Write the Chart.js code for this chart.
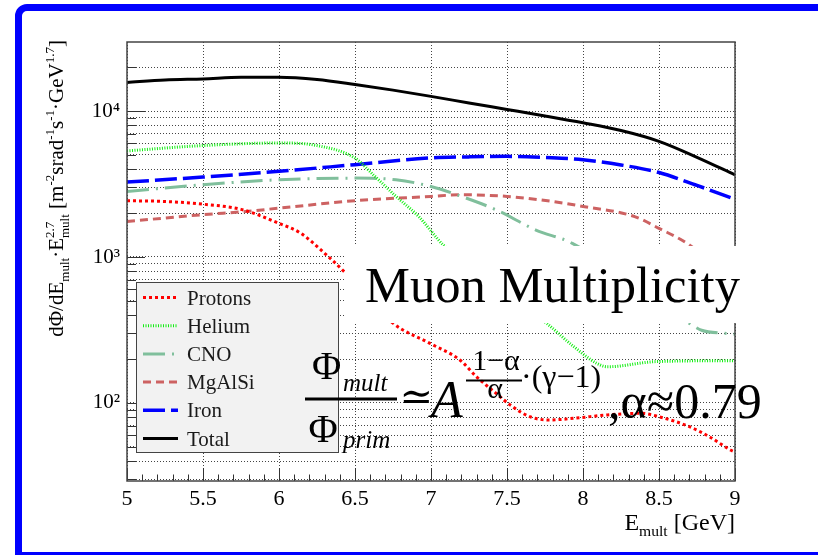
<!DOCTYPE html>
<html>
<head>
<meta charset="utf-8">
<script src="https://cdn.jsdelivr.net/npm/chart.js@4.4.1/dist/chart.umd.min.js"></script>
<style>
  html, body { margin: 0; padding: 0; background: #fff; overflow: hidden; }
  #wrap { position: relative; width: 818px; height: 555px; overflow: hidden; }
  #frame { position: absolute; left: 15px; top: 4px; width: 900px; height: 555px;
           border: 7px solid #0000ff; border-top-left-radius: 12px; box-sizing: border-box; }
  canvas { position: absolute; left: 0; top: 0; }
</style>
</head>
<body>
<div id="wrap">
  <div id="frame"></div>
  <canvas id="c" width="818" height="555"></canvas>
</div>
<script>
const SERIF = '"Liberation Serif","Times New Roman","DejaVu Serif",serif';

// Muon-multiplicity flux dPhi/dE * E^2.7 per primary group, vs E_mult [GeV]
const protonE    = [5.0, 5.25, 5.5, 5.75, 6.0, 6.14, 6.3, 6.44, 6.75, 6.99, 7.19, 7.3, 7.43, 7.52, 7.65, 7.78, 7.94, 8.16, 8.38, 8.5, 8.7, 8.83, 8.97, 9.0];
const protonFlux = [2430, 2400, 2300, 2120, 1700, 1460, 1060, 773, 352, 257, 197, 151, 116, 97, 80.5, 76.5, 78.5, 82.8, 85, 80.5, 68.8, 58.8, 47.6, 46];

const heliumE    = [5.0, 5.5, 6.0, 6.25, 6.5, 6.62, 6.77, 6.92, 7.08, 7.76, 7.94, 8.09, 8.16, 8.48, 9.0];
const heliumFlux = [5330, 5800, 6040, 5800, 4760, 3660, 2600, 1890, 1210, 352, 243, 187, 177, 192, 195];

const cnoE    = [5.0, 5.5, 6.0, 6.5, 6.77, 7.0, 7.2, 7.43, 7.69, 7.93, 8.7, 8.78, 8.93, 9.0];
const cnoFlux = [2810, 3130, 3380, 3470, 3380, 3040, 2600, 2100, 1530, 1240, 351, 315, 300, 296];

const mgalsiE    = [5.0, 5.5, 5.78, 6.0, 6.5, 7.0, 7.2, 7.5, 7.8, 8.0, 8.34, 8.5, 8.7, 9.0];
const mgalsiFlux = [1750, 1950, 2050, 2160, 2430, 2600, 2670, 2600, 2400, 2220, 1890, 1570, 1210, 650];

const ironE    = [5.0, 5.5, 6.0, 6.5, 7.0, 7.25, 7.5, 7.75, 8.0, 8.25, 8.5, 8.75, 9.0];
const ironFlux = [3260, 3530, 3860, 4290, 4770, 4850, 4890, 4800, 4640, 4270, 3790, 3090, 2490];

const totalE    = [5.0, 5.25, 5.5, 5.75, 6.0, 6.25, 6.5, 6.75, 7.0, 7.25, 7.5, 7.75, 8.0, 8.25, 8.5, 8.75, 9.0];
const totalFlux = [15700, 16300, 16600, 17000, 17050, 16450, 15200, 13900, 12600, 11350, 10250, 9250, 8300, 7350, 6200, 4820, 3650];

const xTickValues = [5, 5.5, 6, 6.5, 7, 7.5, 8, 8.5, 9];
const xTickLabels = ['5', '5.5', '6', '6.5', '7', '7.5', '8', '8.5', '9'];
const yTickValues = [30, 40, 50, 60, 70, 80, 90, 100, 200, 300, 400, 500, 600, 700, 800, 900,
                     1000, 2000, 3000, 4000, 5000, 6000, 7000, 8000, 9000, 10000, 20000];
const yMajorValues = [100, 1000, 10000];
const yMajorLabels = ['10²', '10³', '10⁴'];

const pts = (xs, ys) => xs.map((x, i) => ({ x: x, y: ys[i] }));

// ---- small rich-text helper (sub/superscripts) ----
function setFont(ctx, size, italic) {
  ctx.font = (italic ? 'italic ' : '') + size + 'px ' + SERIF;
}
function segWidth(ctx, seg, size, sc) {
  if (seg.k === 'n') { setFont(ctx, size, seg.it); return ctx.measureText(seg.t).width; }
  if (seg.k === 'ss') {
    setFont(ctx, size * sc, false);
    return Math.max(ctx.measureText(seg.sup).width, ctx.measureText(seg.sub).width);
  }
  setFont(ctx, size * sc, seg.it); return ctx.measureText(seg.t).width;
}
function richWidth(ctx, segs, size, sc) {
  return segs.reduce((w, s) => w + segWidth(ctx, s, size, sc), 0);
}
function drawRich(ctx, segs, x, y, size, sc) {
  ctx.textAlign = 'left'; ctx.textBaseline = 'alphabetic';
  let cx = x;
  for (const s of segs) {
    const w = segWidth(ctx, s, size, sc);
    if (s.k === 'n') { setFont(ctx, size, s.it); ctx.fillText(s.t, cx, y); }
    else if (s.k === 'sub') { setFont(ctx, size * sc, s.it); ctx.fillText(s.t, cx, y + size * 0.27); }
    else if (s.k === 'sup') { setFont(ctx, size * sc, s.it); ctx.fillText(s.t, cx, y - size * 0.42); }
    else if (s.k === 'ss') {
      setFont(ctx, size * sc, false);
      ctx.fillText(s.sup, cx, y - size * 0.42);
      ctx.fillText(s.sub, cx, y + size * 0.27);
    }
    cx += w;
  }
}
function txt(ctx, s, x, y, size, opt) {
  opt = opt || {};
  setFont(ctx, size, opt.it);
  ctx.textAlign = opt.align || 'left';
  ctx.textBaseline = 'alphabetic';
  ctx.fillStyle = '#000';
  ctx.fillText(s, x, y);
}

const yTitle = [
  { k: 'n', t: 'dΦ/dE' }, { k: 'sub', t: 'mult' }, { k: 'n', t: '·E' },
  { k: 'ss', sup: '2.7', sub: 'mult' }, { k: 'n', t: ' [m' }, { k: 'sup', t: '-2' },
  { k: 'n', t: 'srad' }, { k: 'sup', t: '-1' }, { k: 'n', t: 's' }, { k: 'sup', t: '-1' },
  { k: 'n', t: '·GeV' }, { k: 'sup', t: '1.7' }, { k: 'n', t: ']' }
];
const xTitle = [ { k: 'n', t: 'E' }, { k: 'sub', t: 'mult' }, { k: 'n', t: ' [GeV]' } ];

const decorations = {
  id: 'decorations',
  afterDatasetsDraw(chart) {
    const ctx = chart.ctx, a = chart.chartArea;
    const xs = chart.scales.x, ys = chart.scales.y;
    ctx.save();

    // inward tick marks
    ctx.strokeStyle = '#333'; ctx.lineWidth = 1; ctx.setLineDash([]);
    ctx.beginPath();
    for (const v of yTickValues) {
      const py = Math.round(ys.getPixelForValue(v)) + 0.5;
      const len = yMajorValues.includes(v) ? 18 : 9;
      ctx.moveTo(a.left, py); ctx.lineTo(a.left + len, py);
    }
    for (let i = 0; i <= 40; i++) {
      const px = Math.round(xs.getPixelForValue(5 + i * 0.1)) + 0.5;
      const len = i % 5 === 0 ? 13 : 6.5;
      ctx.moveTo(px, a.bottom); ctx.lineTo(px, a.bottom - len);
    }
    ctx.stroke();

    // plot frame
    ctx.strokeStyle = '#444'; ctx.lineWidth = 1.5;
    ctx.strokeRect(a.left, a.top, a.right - a.left, a.bottom - a.top);

    // legend box
    const lx = 136.5, ly = 282.5, lw = 202, lh = 170;
    ctx.fillStyle = '#f2f2f2'; ctx.fillRect(lx, ly, lw, lh);
    ctx.strokeStyle = '#444'; ctx.lineWidth = 1; ctx.strokeRect(lx, ly, lw, lh);
    chart.data.datasets.forEach((ds, i) => {
      const ry = 297.5 + i * 28.2;
      ctx.strokeStyle = ds.borderColor; ctx.lineWidth = ds.borderWidth;
      ctx.setLineDash(ds.borderDash || []);
      ctx.beginPath(); ctx.moveTo(143, ry); ctx.lineTo(178, ry); ctx.stroke();
      ctx.setLineDash([]);
      setFont(ctx, 21, false); ctx.fillStyle = '#1a1a1a';
      ctx.textAlign = 'left'; ctx.textBaseline = 'alphabetic';
      ctx.fillText(ds.label, 187, ry + 7);
    });

    // title box
    ctx.fillStyle = '#fff'; ctx.fillRect(345, 246, 400, 77);
    setFont(ctx, 50, false);
    const tw = ctx.measureText('Muon Multiplicity').width;
    txt(ctx, 'Muon Multiplicity', 365, 302, 50 * 375 / tw);

    // scaling formula
    txt(ctx, 'Φ', 326.5, 378.5, 40, { align: 'center' });
    txt(ctx, 'mult', 343, 390.5, 25, { it: true });
    ctx.fillStyle = '#000'; ctx.fillRect(305, 397.5, 92, 3);
    txt(ctx, 'Φ', 323, 441.5, 40, { align: 'center' });
    txt(ctx, 'prim', 343, 448, 25, { it: true });
    txt(ctx, '≃', 416.5, 410, 40, { align: 'center' });
    txt(ctx, 'A', 431, 416.5, 52, { it: true });
    txt(ctx, '1−α', 496, 370, 30, { align: 'center' });
    ctx.fillStyle = '#000'; ctx.fillRect(466, 379.5, 56, 2);
    txt(ctx, 'α', 495, 398, 30, { align: 'center' });
    txt(ctx, '·(γ−1)', 521, 387, 32);
    txt(ctx, ',α≈0.79', 608, 418, 50);

    ctx.restore();
  },
  afterDraw(chart) {
    const ctx = chart.ctx;
    ctx.save();
    ctx.fillStyle = '#000';
    // x-axis title, right aligned to the frame
    const xw = richWidth(ctx, xTitle, 24, 0.65);
    drawRich(ctx, xTitle, chart.chartArea.right - xw, 530, 24, 0.65);
    // y-axis title, rotated, aligned to the top of the frame
    const yw = richWidth(ctx, yTitle, 21, 0.62);
    ctx.translate(63, 40);
    ctx.rotate(-Math.PI / 2);
    drawRich(ctx, yTitle, -yw, 0, 21, 0.62);
    ctx.restore();
  }
};

new Chart(document.getElementById('c'), {
  type: 'line',
  data: {
    datasets: [
      { label: 'Protons', data: pts(protonE, protonFlux), borderColor: '#ff0000', borderWidth: 3, borderDash: [3, 3] },
      { label: 'Helium',  data: pts(heliumE, heliumFlux), borderColor: '#11ee11', borderWidth: 3, borderDash: [1, 1.5] },
      { label: 'CNO',     data: pts(cnoE, cnoFlux), borderColor: '#80bf9c', borderWidth: 3, borderDash: [22, 7, 2, 7] },
      { label: 'MgAlSi',  data: pts(mgalsiE, mgalsiFlux), borderColor: '#cd6262', borderWidth: 3, borderDash: [8, 5] },
      { label: 'Iron',    data: pts(ironE, ironFlux), borderColor: '#0000ff', borderWidth: 3.5, borderDash: [22, 6] },
      { label: 'Total',   data: pts(totalE, totalFlux), borderColor: '#000000', borderWidth: 3 }
    ]
  },
  options: {
    responsive: false,
    animation: false,
    layout: { padding: { left: 0, right: 83, top: 42, bottom: 0 } },
    plugins: { legend: { display: false }, tooltip: { enabled: false } },
    elements: {
      point: { radius: 0 },
      line: { cubicInterpolationMode: 'monotone', fill: false }
    },
    scales: {
      x: {
        type: 'linear', min: 5, max: 9,
        afterBuildTicks: s => { s.ticks = xTickValues.map(v => ({ value: v })); },
        afterFit: s => { s.height = 74; },
        grid: { color: '#444', lineWidth: 1, drawTicks: false },
        border: { display: false, dash: [1, 2] },
        ticks: {
          padding: 5, color: '#000', maxRotation: 0, autoSkip: false,
          font: { family: SERIF, size: 22 },
          callback: (v, i) => xTickLabels[i]
        }
      },
      y: {
        type: 'logarithmic', min: 29.2, max: 29700,
        afterBuildTicks: s => { s.ticks = yTickValues.map(v => ({ value: v })); },
        afterFit: s => { s.width = 127; },
        grid: { color: '#444', lineWidth: 1, drawTicks: false },
        border: { display: false, dash: [1, 2] },
        ticks: {
          padding: 7, color: '#000', autoSkip: false,
          font: { family: SERIF, size: 21 },
          callback: (v) => { const k = yMajorValues.indexOf(v); return k >= 0 ? yMajorLabels[k] : ''; }
        }
      }
    }
  },
  plugins: [decorations]
});
</script>
</body>
</html>
